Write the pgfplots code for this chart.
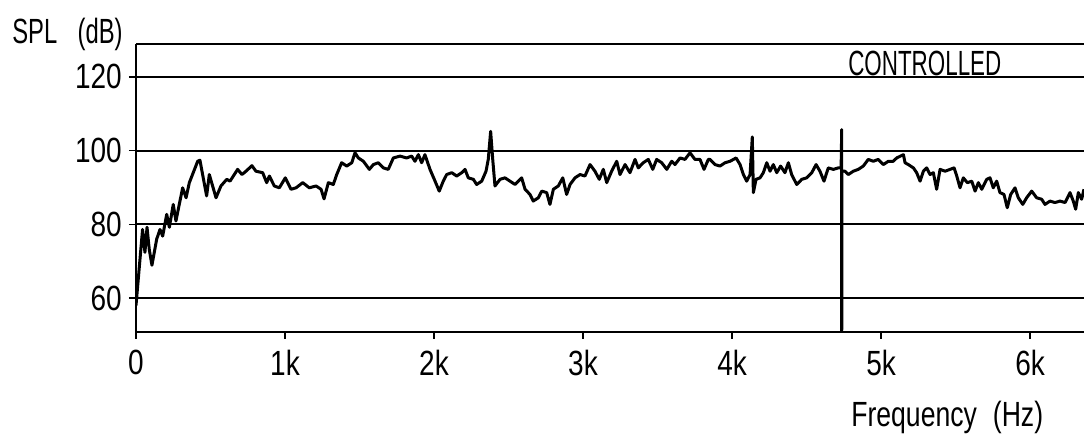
\documentclass[border=0pt]{standalone}
\usepackage{fontspec}
\setmainfont{Liberation Sans}
\usepackage{pgfplots}
\pgfplotsset{compat=1.18}
\newcommand{\plotfont}{\fontsize{17.5}{20}\selectfont}
\begin{document}
\begin{tikzpicture}
\path[use as bounding box] (-68pt,-55pt) rectangle (474pt,166pt);
\begin{axis}[
  scale only axis, width=474pt, height=144pt,
  xmin=0, xmax=6362, ymin=50.8, ymax=128.9,
  axis x line=box, axis y line=left,
  x axis line style={-, line width=1pt},
  y axis line style={-, line width=1pt},
  xtick={0,1000,2000,3000,4000,5000,6000},
  xticklabels={0,1k,2k,3k,4k,5k,6k},
  ytick={60,80,100,120},
  xtick pos=left, ytick pos=left,
  tick align=outside, major tick length=3.5pt,
  tick style={black, line width=0.8pt},
  ymajorgrids, major grid style={black, line width=1pt},
  /pgf/number format/assume math mode=true,
  ticklabel style={font=\plotfont, xscale=0.8},
  yticklabel style={xshift=-1pt},
  xticklabel style={yshift=-2pt},
  scaled x ticks=false,
]
\addplot[black, line width=1.5pt, line join=round] coordinates {
(0,58) (44,78.6) (60,72.4) (74,79.2) (89,73.2) (107,68.9) (139,76) (161,78.6)
(179,76.8) (206,82.7) (224,79.2) (250,85.4) (268,80.9) (313,89.9) (336,87.2)
(358,91.3) (414,97.1) (429,97.4) (474,87.7) (492,93.5) (537,87.2) (570,90.4)
(609,92.2) (631,91.7) (682,94.9) (711,93.5) (738,94.4) (778,95.9) (805,94.4)
(850,94) (877,91.3) (895,93.1) (928,90.4) (962,89.9) (1002,92.6) (1040,89.5)
(1074,89.9) (1119,91.3) (1163,89.9) (1208,90.4) (1242,89.5) (1262,86.9)
(1291,91.3) (1324,90.8) (1347,93.5) (1380,96.7) (1414,95.8) (1448,96.7)
(1470,99.4) (1492,98) (1526,97.1) (1566,94.9) (1593,96.2) (1626,96.7)
(1660,95.3) (1693,94.9) (1727,98) (1772,98.5) (1816,98) (1850,98.5) (1872,97.1)
(1895,98.9) (1917,96.7) (1939,98.9) (1973,94.9) (2007,91.7) (2035,89)
(2062,91.7) (2085,93.5) (2119,94) (2152,93.1) (2186,94) (2208,94.9) (2230,92.6)
(2264,92.2) (2286,90.8) (2320,91.7) (2349,94.4) (2364,97.6) (2380,105.2)
(2394,97.6) (2409,90.4) (2443,92.2) (2476,92.6) (2510,91.7) (2544,90.8)
(2588,92.6) (2611,89.5) (2644,88.1) (2666,86.3) (2700,87.2) (2723,89)
(2756,88.6) (2778,85.4) (2801,89.5) (2834,90.4) (2864,92.6) (2890,88.1)
(2913,90.8) (2946,92.6) (2980,93.5) (3013,93.1) (3047,96.2) (3080,94.4)
(3109,92.2) (3136,94.9) (3159,91.3) (3192,94.4) (3226,97.1) (3248,93.5)
(3282,96.2) (3315,94) (3349,97.6) (3371,95.3) (3404,96.7) (3438,97.6)
(3468,94.9) (3494,97.6) (3528,96.7) (3562,94.9) (3595,97.1) (3617,96.2)
(3651,98) (3684,97.6) (3718,99.4) (3751,97.6) (3785,97.6) (3812,94.9)
(3841,97.6) (3852,97.6) (3886,96.2) (3919,95.8) (3953,96.7) (3987,97.1)
(4027,98) (4054,96.2) (4076,93.5) (4098,91.7) (4121,93.5) (4136,103.7)
(4143,88.6) (4161,92.2) (4188,92.6) (4210,94) (4233,96.7) (4255,94.4)
(4277,96.2) (4300,94) (4326,95.8) (4355,94) (4378,96.7) (4400,93.5)
(4434,90.8) (4468,92.2) (4501,92.6) (4535,94) (4564,96.2) (4590,94.4)
(4617,91.7) (4646,95.3) (4680,94.9) (4713,95.3) (4732,95.3) (4736,105.7)
(4736,40) (4737,94.4)
(4758,94.4) (4780,93.5) (4814,94.4) (4847,94.9) (4881,95.8) (4914,97.6)
(4948,97.1) (4981,97.6) (5015,96.2) (5049,97.1) (5082,97.1) (5105,98)
(5150,98.9) (5161,96.7) (5183,96.2) (5217,95.3) (5239,94) (5262,91.7)
(5284,94.4) (5306,95.3) (5329,93.5) (5351,94) (5373,89.5) (5396,94.9)
(5430,94.4) (5463,94.9) (5490,95.3) (5508,93.1) (5530,89.9) (5552,92.6)
(5579,91.3) (5609,91.7) (5631,89) (5653,91.3) (5676,89.5) (5709,92.2)
(5731,92.6) (5753,89.9) (5776,91.7) (5798,88.6) (5825,88.1) (5847,84.5)
(5870,88.1) (5899,89.9) (5921,87.2) (5951,85.4) (5977,87.2) (6011,89)
(6044,87.2) (6078,86.8) (6100,85.4) (6134,86.3) (6167,85.9) (6201,86.3)
(6235,85.9) (6268,88.6) (6290,86.3) (6306,84.1) (6324,88.6) (6346,86.8)
(6362,89.5)
};
\end{axis}
\node[anchor=base west, inner sep=0pt, font=\plotfont, xscale=0.68] at (-62pt,144.3pt) {SPL\hspace{15pt}(dB)};
\node[anchor=base west, inner sep=0pt, font=\plotfont, xscale=0.64] at (356pt,128.3pt) {CONTROLLED};
\node[anchor=base west, inner sep=0pt, font=\plotfont, xscale=0.76] at (357.5pt,-47.3pt) {Frequency\hspace{10.5pt}(Hz)};
\end{tikzpicture}
\end{document}
